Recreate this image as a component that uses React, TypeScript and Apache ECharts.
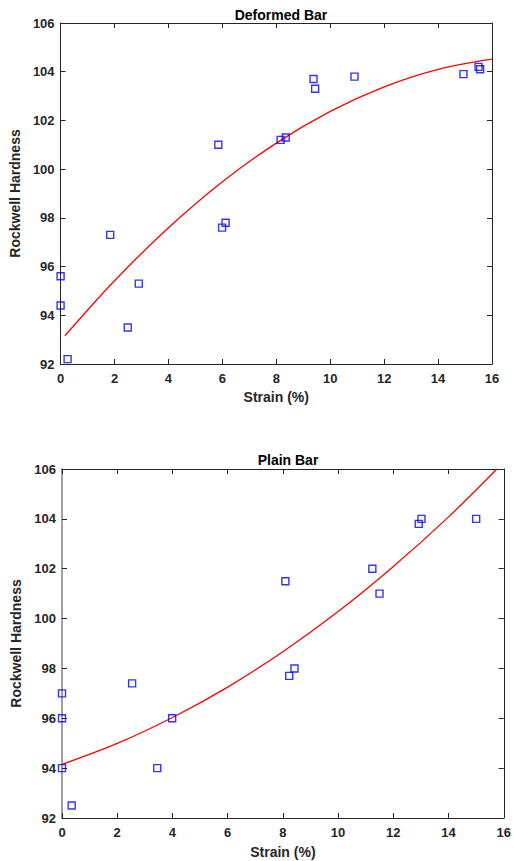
import React, { useEffect, useRef } from "react";
import * as echarts from "echarts";

// Deformed Bar data (Strain %, Rockwell Hardness)
const deformedStrain = [0, 0, 0.26, 1.84, 2.49, 2.9, 5.85, 5.99, 6.12, 8.16, 8.35, 9.38, 9.44, 10.9, 14.94, 15.5, 15.56];
const deformedHardness = [95.6, 94.4, 92.2, 97.3, 93.5, 95.3, 101.0, 97.6, 97.8, 101.2, 101.3, 103.7, 103.3, 103.8, 103.9, 104.2, 104.1];
// fitted curve
const deformedFitX = [0.16, 2, 4, 6, 8, 10, 12, 14, 16];
const deformedFitY = [93.16, 95.42, 97.59, 99.48, 101.07, 102.37, 103.38, 104.1, 104.52];

// Plain Bar data
const plainStrain = [0, 0, 0, 0.35, 2.54, 3.45, 3.99, 8.09, 8.23, 8.42, 11.24, 11.5, 12.92, 13.02, 15.0];
const plainHardness = [97.0, 96.0, 94.0, 92.5, 97.4, 94.0, 96.0, 101.5, 97.7, 98.0, 102.0, 101.0, 103.8, 104.0, 104.0];
const plainFitX = [0, 2, 4, 6, 8, 10, 12, 14, 15.75];
const plainFitY = [94.15, 94.99, 96.03, 97.25, 98.67, 100.28, 102.09, 104.08, 106.0];

const xTicks = { min: 0, max: 16, interval: 2 };
const yTicks = { min: 92, max: 106, interval: 2 };
const titles = ["Deformed Bar", "Plain Bar"];
const xName = "Strain (%)";
const yName = "Rockwell Hardness";

const FONT = "Liberation Sans, Arial, Helvetica, sans-serif";
const TXT = "#262626";

const zip = (a: number[], b: number[]) => a.map((v, i) => [v, b[i]]);

export default function App() {
  const ref = useRef<HTMLDivElement>(null);
  useEffect(() => {
    if (!ref.current) return;
    const chart = echarts.init(ref.current, undefined, { renderer: "svg" });

    const grids = [
      { left: 60, top: 23, width: 432, height: 341 },
      { left: 62, top: 469, width: 442.5, height: 349 },
    ];

    const xAxes: any[] = [];
    const yAxes: any[] = [];
    grids.forEach((g, i) => {
      const leftColor = i === 1 ? "#a0a0a0" : TXT;
      const leftWidth = i === 1 ? 2 : 1;
      xAxes.push({
        type: "value",
        gridIndex: i,
        ...xTicks,
        position: "bottom",
        name: xName,
        nameLocation: "middle",
        nameGap: i === 0 ? 26 : 27,
        nameTextStyle: { fontFamily: FONT, fontWeight: "bold", fontSize: 14, color: TXT },
        axisLine: { show: true, onZero: false, lineStyle: { color: TXT, width: 1 } },
        axisTick: { show: true, inside: true, length: 5, lineStyle: { color: TXT } },
        axisLabel: { fontFamily: FONT, fontWeight: "bold", fontSize: 13, color: TXT, margin: 8 },
        splitLine: { show: false },
      });
      xAxes.push({
        type: "value",
        gridIndex: i,
        ...xTicks,
        position: "top",
        axisLine: { show: true, onZero: false, lineStyle: { color: TXT, width: 1 } },
        axisTick: { show: true, inside: true, length: 5, lineStyle: { color: TXT } },
        axisLabel: { show: false },
        splitLine: { show: false },
      });
      yAxes.push({
        type: "value",
        gridIndex: i,
        ...yTicks,
        position: "left",
        name: yName,
        nameLocation: "middle",
        nameGap: i === 0 ? 31 : 33,
        nameTextStyle: { fontFamily: FONT, fontWeight: "bold", fontSize: 14, color: TXT },
        axisLine: { show: true, onZero: false, lineStyle: { color: leftColor, width: leftWidth } },
        axisTick: { show: true, inside: true, length: 5, lineStyle: { color: TXT } },
        axisLabel: { fontFamily: FONT, fontWeight: "bold", fontSize: 13, color: TXT, margin: 6 },
        splitLine: { show: false },
      });
      yAxes.push({
        type: "value",
        gridIndex: i,
        ...yTicks,
        position: "right",
        axisLine: { show: true, onZero: false, lineStyle: { color: TXT, width: 1 } },
        axisTick: { show: true, inside: true, length: 5, lineStyle: { color: TXT } },
        axisLabel: { show: false },
        splitLine: { show: false },
      });
    });

    const scatterStyle = (xi: number, yi: number, data: number[][]) => ({
      type: "scatter",
      xAxisIndex: xi,
      yAxisIndex: yi,
      data,
      symbol: "rect",
      symbolSize: 7,
      itemStyle: { color: "rgba(0,0,0,0)", borderColor: "#0000ff", borderWidth: 1.4 },
      z: 3,
    });
    const lineStyle = (xi: number, yi: number, data: number[][]) => ({
      type: "line",
      xAxisIndex: xi,
      yAxisIndex: yi,
      data,
      smooth: 0.35,
      showSymbol: false,
      symbol: "none",
      lineStyle: { color: "#ff0000", width: 1.3 },
      z: 2,
    });

    chart.setOption({
      animation: false,
      backgroundColor: "#ffffff",
      title: [
        {
          text: titles[0],
          left: 276,
          top: 3,
          textAlign: "center",
          textStyle: { fontFamily: FONT, fontWeight: "bold", fontSize: 14, color: "#000" },
        },
        {
          text: titles[1],
          left: 283,
          top: 448,
          textAlign: "center",
          textStyle: { fontFamily: FONT, fontWeight: "bold", fontSize: 14, color: "#000" },
        },
      ],
      grid: grids,
      xAxis: xAxes,
      yAxis: yAxes,
      series: [
        lineStyle(0, 0, zip(deformedFitX, deformedFitY)),
        scatterStyle(0, 0, zip(deformedStrain, deformedHardness)),
        lineStyle(2, 2, zip(plainFitX, plainFitY)),
        scatterStyle(2, 2, zip(plainStrain, plainHardness)),
      ],
    });
    return () => chart.dispose();
  }, []);
  return (
    <div
      ref={ref}
      style={{ position: "fixed", left: 0, top: 0, width: 514, height: 861, background: "#fff" }}
    />
  );
}
